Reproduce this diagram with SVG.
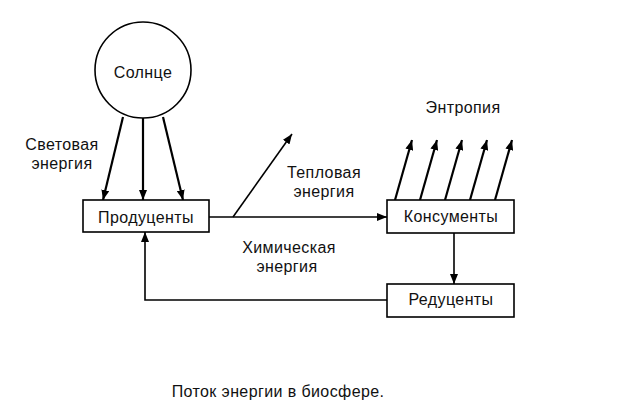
<svg xmlns="http://www.w3.org/2000/svg" width="620" height="418" viewBox="0 0 620 418">
<defs>
<marker id="ah" viewBox="0 0 10 8" refX="10" refY="4" markerWidth="10" markerHeight="8" markerUnits="userSpaceOnUse" orient="auto">
<path d="M0,0 L10,4 L0,8 Z" fill="#000"/>
</marker>
<style>
.t{font-family:"Liberation Sans",Arial,sans-serif;font-size:16px;fill:#111;letter-spacing:0.4px}
.m{text-anchor:middle}
.b{fill:#fff;stroke:#000;stroke-width:1.6}
.c{fill:none;stroke:#000;stroke-width:1.6}
.th{stroke-width:2.2}
</style>
</defs>
<rect width="620" height="418" fill="#fff"/>
<g id="connectors">
<line class="c th" x1="123" y1="117" x2="103" y2="200" marker-end="url(#ah)"/>
<line class="c th" x1="143" y1="118" x2="143" y2="200" marker-end="url(#ah)"/>
<line class="c th" x1="163" y1="117" x2="183" y2="200" marker-end="url(#ah)"/>
<line class="c" x1="209" y1="217" x2="387" y2="217" marker-end="url(#ah)"/>
<line class="c" x1="233" y1="217" x2="292" y2="134" stroke-width="2.6" marker-end="url(#ah)"/>
<line class="c" x1="454" y1="233" x2="454" y2="284" marker-end="url(#ah)"/>
<polyline class="c" points="387,300 145,300 145,232" marker-end="url(#ah)"/>
<line class="c th" x1="395" y1="200" x2="412" y2="140" marker-end="url(#ah)"/>
<line class="c th" x1="420" y1="200" x2="437" y2="140" marker-end="url(#ah)"/>
<line class="c th" x1="445" y1="200" x2="462" y2="140" marker-end="url(#ah)"/>
<line class="c th" x1="470" y1="200" x2="487" y2="140" marker-end="url(#ah)"/>
<line class="c th" x1="495" y1="200" x2="512" y2="140" marker-end="url(#ah)"/>
</g>
<g id="sun">
<circle class="b" cx="143" cy="70" r="48"/>
<text class="t m" x="143" y="78">Солнце</text>
</g>
<g id="producers">
<rect class="b" x="83" y="200" width="126" height="32"/>
<text class="t m" x="146" y="223">Продуценты</text>
</g>
<g id="consumers">
<rect class="b" x="387" y="200" width="127" height="33"/>
<text class="t m" x="451" y="222">Консументы</text>
</g>
<g id="reducers">
<rect class="b" x="387" y="284" width="127" height="33"/>
<text class="t m" x="451" y="305">Редуценты</text>
</g>
<g id="labels">
<text class="t m" x="62" y="150">Световая</text>
<text class="t m" x="62" y="169">энергия</text>
<text class="t m" x="324" y="178">Тепловая</text>
<text class="t m" x="324" y="197">энергия</text>
<text class="t m" x="289" y="253">Химическая</text>
<text class="t m" x="287" y="272">энергия</text>
<text class="t m" x="463" y="113">Энтропия</text>
<text class="t m" x="278" y="397">Поток энергии в биосфере.</text>
</g>
</svg>
